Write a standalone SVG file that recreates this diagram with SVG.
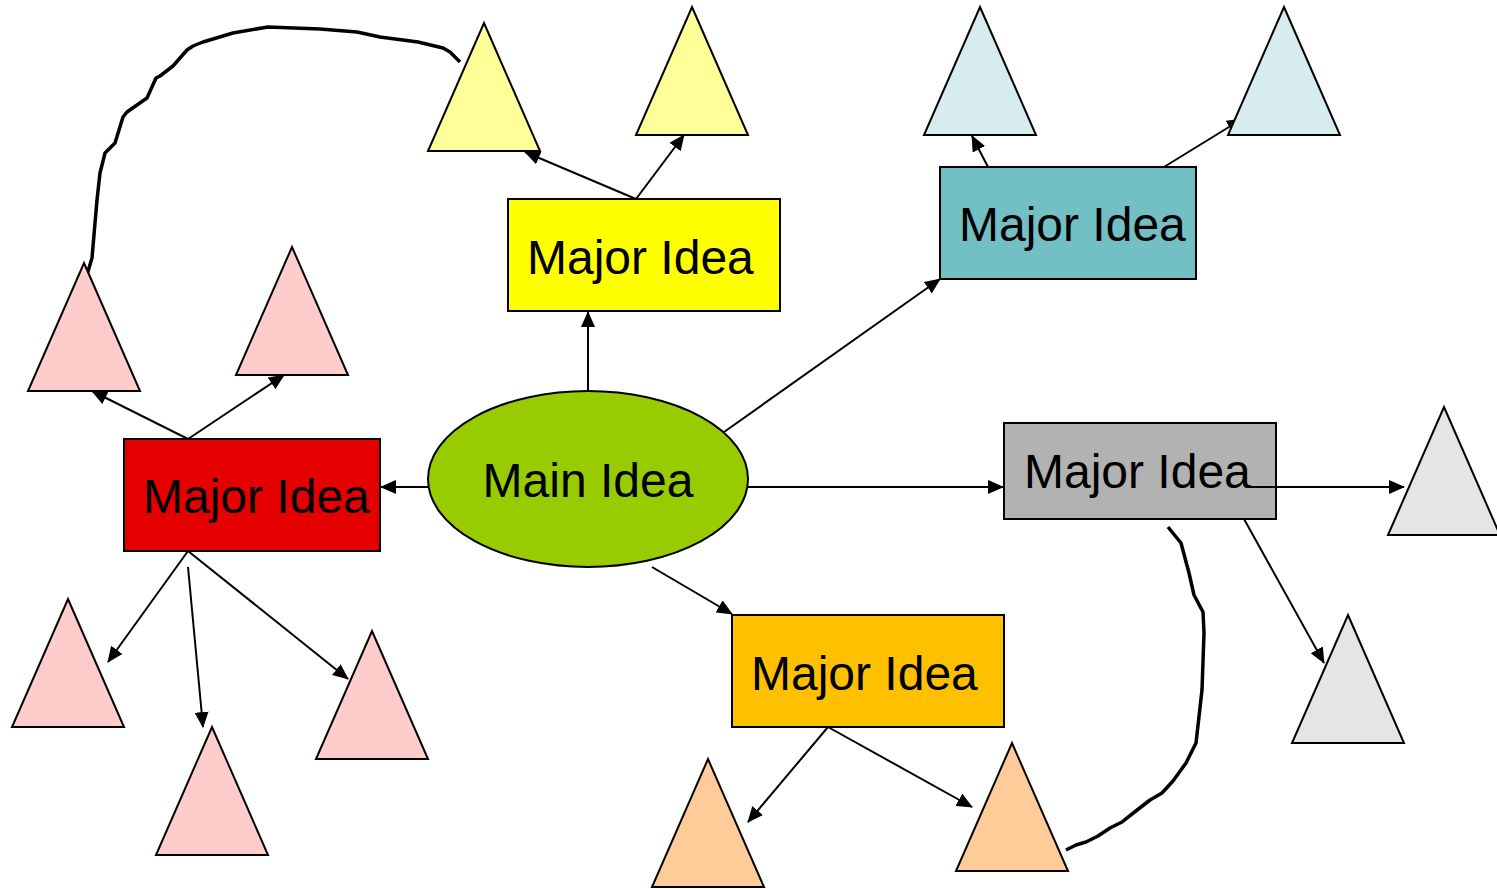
<svg xmlns="http://www.w3.org/2000/svg" width="1497" height="889" viewBox="0 0 1497 889">
<style>
.box{stroke:#000;stroke-width:2}
.tri{stroke:#000;stroke-width:2;stroke-linejoin:miter}
.lbl{font-family:"Liberation Sans",Arial,sans-serif;font-size:48px;fill:#000}
.con{stroke:#000;stroke-width:2;fill:none}
.curve{stroke:#000;stroke-width:3.5;fill:none;stroke-linejoin:round}
.pink{fill:#ffcccc}.yel{fill:#ffff99}.tea{fill:#d6ecef}.gry{fill:#e5e5e5}.org{fill:#ffcc99}
</style>
<defs>
<marker id="ah" markerUnits="userSpaceOnUse" markerWidth="16" markerHeight="14" viewBox="0 0 16 14" refX="15" refY="7" orient="auto">
<path d="M0,0 L16,7 L0,14 z" fill="#000"/>
</marker>
</defs>

<g id="connectors">
<line class="con" x1="588" y1="391" x2="588" y2="312" marker-end="url(#ah)"/>
<line class="con" x1="724" y1="432" x2="940" y2="279" marker-end="url(#ah)"/>
<line class="con" x1="428" y1="487" x2="381" y2="487" marker-end="url(#ah)"/>
<line class="con" x1="748" y1="487" x2="1003" y2="487" marker-end="url(#ah)"/>
<line class="con" x1="652" y1="567" x2="732" y2="614" marker-end="url(#ah)"/>
<line class="con" x1="636" y1="199" x2="525" y2="152" marker-end="url(#ah)"/>
<line class="con" x1="636" y1="199" x2="684" y2="135" marker-end="url(#ah)"/>
<line class="con" x1="988" y1="167" x2="972" y2="136" marker-end="url(#ah)"/>
<line class="con" x1="1164" y1="167" x2="1242" y2="119" marker-end="url(#ah)"/>
<line class="con" x1="188" y1="439" x2="92" y2="391" marker-end="url(#ah)"/>
<line class="con" x1="188" y1="439" x2="284" y2="375" marker-end="url(#ah)"/>
<line class="con" x1="188" y1="551" x2="108" y2="662" marker-end="url(#ah)"/>
<line class="con" x1="188" y1="567" x2="203" y2="727" marker-end="url(#ah)"/>
<line class="con" x1="188" y1="551" x2="348" y2="679" marker-end="url(#ah)"/>
<line class="con" x1="1246" y1="487" x2="1404" y2="487" marker-end="url(#ah)"/>
<line class="con" x1="1244" y1="519" x2="1324" y2="663" marker-end="url(#ah)"/>
<line class="con" x1="828" y1="727" x2="748" y2="822" marker-end="url(#ah)"/>
<line class="con" x1="828" y1="727" x2="972" y2="807" marker-end="url(#ah)"/>
<polyline class="curve" points="86,278 92,258 97,200 100,173 105,153 115,143 123,117 127,112 147,98 156,78 160,76 173,66 187,50 193,46 203,42 233,33 268,27 320,29 357,32 380,37 418,42 443,48 450,52 460,62"/>
<polyline class="curve" points="1168,527 1181,543 1189,573 1194,595 1203,612 1204,633 1202,690 1196,743 1186,763 1173,781 1162,793 1150,800 1132,814 1122,822 1110,828 1098,836 1086,842 1076,845 1066,850"/>
</g>

<g id="tri-y1"><polygon class="tri yel" points="484,23 540,151 428,151"/></g>
<g id="tri-y2"><polygon class="tri yel" points="692,7 748,135 636,135"/></g>
<g id="tri-t1"><polygon class="tri tea" points="980,7 1036,135 924,135"/></g>
<g id="tri-t2"><polygon class="tri tea" points="1284,7 1340,135 1228,135"/></g>
<g id="tri-p1"><polygon class="tri pink" points="84,263 140,391 28,391"/></g>
<g id="tri-p2"><polygon class="tri pink" points="292,247 348,375 236,375"/></g>
<g id="tri-p3"><polygon class="tri pink" points="68,599 124,727 12,727"/></g>
<g id="tri-p4"><polygon class="tri pink" points="212,727 268,855 156,855"/></g>
<g id="tri-p5"><polygon class="tri pink" points="372,631 428,759 316,759"/></g>
<g id="tri-g1"><polygon class="tri gry" points="1444,407 1500,535 1388,535"/></g>
<g id="tri-g2"><polygon class="tri gry" points="1348,615 1404,743 1292,743"/></g>
<g id="tri-o1"><polygon class="tri org" points="708,759 764,887 652,887"/></g>
<g id="tri-o2"><polygon class="tri org" points="1012,743 1068,871 956,871"/></g>

<g id="main-idea">
<ellipse class="box" cx="588" cy="479" rx="160" ry="88" fill="#99cc00"/>
<text class="lbl" x="588" y="497" text-anchor="middle">Main Idea</text>
</g>
<g id="major-yellow">
<rect class="box" x="508" y="199" width="272" height="112" fill="#ffff00"/>
<text class="lbl" x="527" y="274">Major Idea</text>
</g>
<g id="major-teal">
<rect class="box" x="940" y="167" width="256" height="112" fill="#72bfc4"/>
<text class="lbl" x="959" y="241">Major Idea</text>
</g>
<g id="major-red">
<rect class="box" x="124" y="439" width="256" height="112" fill="#e50000"/>
<text class="lbl" x="143" y="513">Major Idea</text>
</g>
<g id="major-gray">
<rect class="box" x="1004" y="423" width="272" height="96" fill="#b2b2b2"/>
<text class="lbl" x="1024" y="488">Major Idea</text>
</g>
<g id="major-orange">
<rect class="box" x="732" y="615" width="272" height="112" fill="#ffc000"/>
<text class="lbl" x="751" y="690">Major Idea</text>
</g>
<line class="con" x1="1246" y1="487" x2="1276" y2="487"/>
</svg>
